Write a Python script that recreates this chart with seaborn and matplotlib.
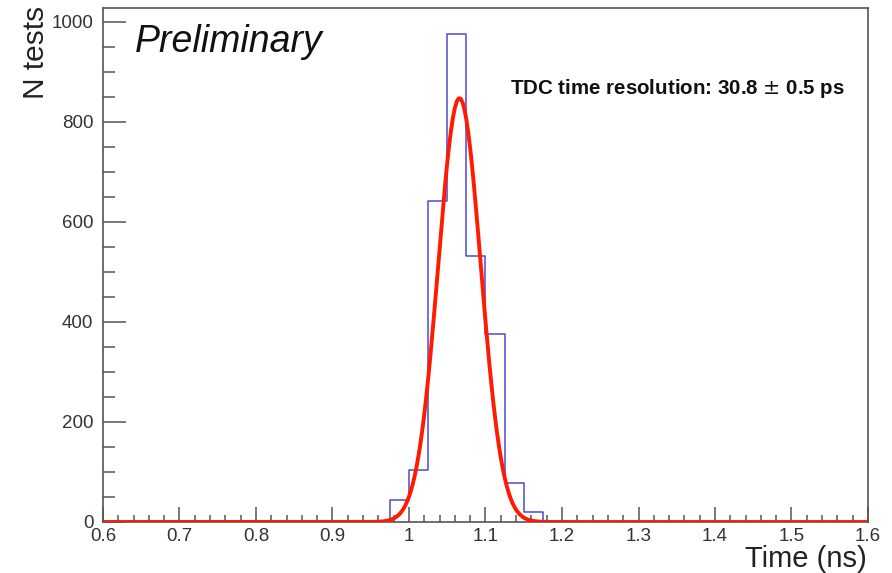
import numpy as np
import pandas as pd
import matplotlib
matplotlib.use("Agg")
import matplotlib.pyplot as plt
import seaborn as sns
from matplotlib.ticker import MultipleLocator

# ---- data ----
bin_edges = [0.95, 0.975, 1.0, 1.025, 1.05, 1.075, 1.1, 1.125, 1.15, 1.175, 1.2]
bin_counts = [0, 45, 105, 642, 977, 533, 377, 79, 21, 0]
fit_amplitude = 848.0
fit_mean = 1.066
fit_sigma = 0.0278
fit_range = (0.6, 1.6)
x_ticks = [0.6, 0.7, 0.8, 0.9, 1.0, 1.1, 1.2, 1.3, 1.4, 1.5, 1.6]
x_tick_labels = ["0.6", "0.7", "0.8", "0.9", "1", "1.1", "1.2", "1.3", "1.4", "1.5", "1.6"]
y_ticks = [0, 200, 400, 600, 800, 1000]

sns.set_theme(style="white")
plt.rcParams['font.family'] = ['Liberation Sans', 'DejaVu Sans']

fig = plt.figure(figsize=(8.92, 5.73), dpi=100)
ax = fig.add_axes([103/892, 1-522/573, (868-103)/892, (522-8)/573])

centers = [(a + b) / 2 for a, b in zip(bin_edges[:-1], bin_edges[1:])]
hist_df = pd.DataFrame({"t": centers, "n": bin_counts})
sns.histplot(data=hist_df, x="t", weights="n", bins=bin_edges, element="step",
             fill=False, color="#4a4ad8", linewidth=1.1, ax=ax)

xs = np.linspace(fit_range[0], fit_range[1], 401)
ys = fit_amplitude * np.exp(-0.5 * ((xs - fit_mean) / fit_sigma) ** 2)
fit_df = pd.DataFrame({"t": xs, "f": ys})
sns.lineplot(data=fit_df, x="t", y="f", color="#ff1a00", linewidth=2.8, ax=ax, zorder=5)

ax.set_xlim(0.6, 1.6)
ax.set_ylim(0, 1028)
ax.set_xticks(x_ticks)
ax.set_xticklabels(x_tick_labels)
ax.set_yticks(y_ticks)
ax.xaxis.set_minor_locator(MultipleLocator(0.02))
ax.yaxis.set_minor_locator(MultipleLocator(50))
ax.tick_params(axis="both", which="both", bottom=True, left=True, top=False, right=False,
               direction="in", color="#555555", width=1.1)
ax.tick_params(axis="x", which="major", length=10.8)
ax.tick_params(axis="x", which="minor", length=5.4)
ax.tick_params(axis="y", which="major", length=16.5)
ax.tick_params(axis="y", which="minor", length=8.3)
ax.tick_params(axis="both", which="major", labelcolor="#333333", labelsize=13.5)
ax.tick_params(axis="x", pad=4.5)
ax.tick_params(axis="y", pad=7)
for s in ax.spines.values():
    s.set_color("#555555")
    s.set_linewidth(1.2)

ax.set_xlabel("")
ax.set_ylabel("")
fig.text(867/892, 1-567/573, "Time (ns)", ha="right", va="baseline", fontsize=21, color="#222222")
fig.text(36/892, 1-6/573, "N tests", ha="center", va="top", rotation=90, fontsize=21.5, color="#222222")

ax.text(135/892, 1-42/573, "Preliminary", transform=fig.transFigure, ha="left", va="center",
        fontsize=27, style="italic", color="#111111")
ax.text(510/892, 1-88/573, "TDC time resolution: 30.8 $\\pm$ 0.5 ps", transform=fig.transFigure,
        ha="left", va="center", fontsize=14.8, fontweight="bold", color="#111111")

fig.savefig("out.png", dpi=100)
